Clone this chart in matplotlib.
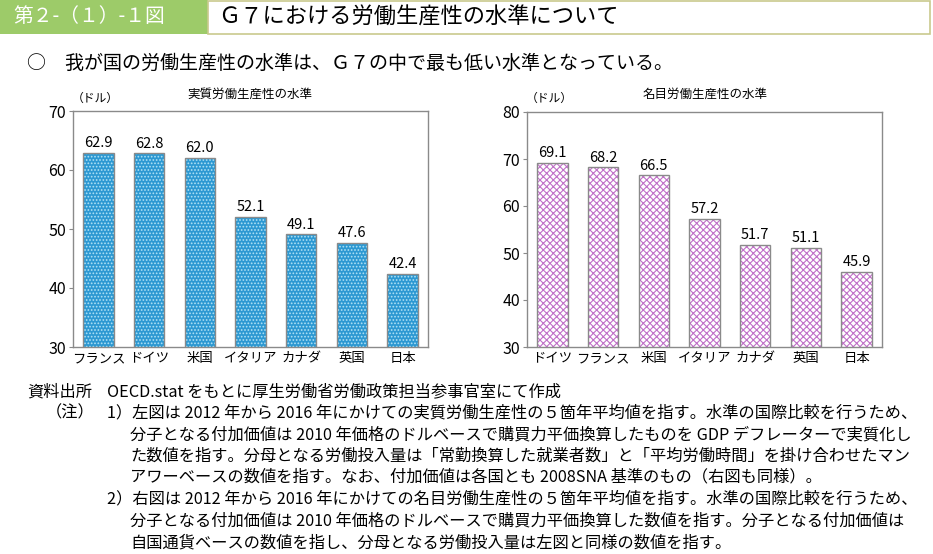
import matplotlib.pyplot as plt
from matplotlib.patches import Rectangle

plt.rcParams['font.family'] = ['Noto Sans CJK JP', 'DejaVu Sans']
plt.rcParams['hatch.linewidth'] = 0.8

# data
real_countries = ['フランス', 'ドイツ', '米国', 'イタリア', 'カナダ', '英国', '日本']
real_values = [62.9, 62.8, 62.0, 52.1, 49.1, 47.6, 42.4]
nominal_countries = ['ドイツ', 'フランス', '米国', 'イタリア', 'カナダ', '英国', '日本']
nominal_values = [69.1, 68.2, 66.5, 57.2, 51.7, 51.1, 45.9]

header_label = '第２-（１）-１図'
header_title = 'Ｇ７における労働生産性の水準について'
subtitle = '○　我が国の労働生産性の水準は、Ｇ７の中で最も低い水準となっている。'
notes = [
    '1）左図は 2012 年から 2016 年にかけての実質労働生産性の５箇年平均値を指す。水準の国際比較を行うため、',
    '分子となる付加価値は 2010 年価格のドルベースで購買力平価換算したものを GDP デフレーターで実質化し',
    'た数値を指す。分母となる労働投入量は「常勤換算した就業者数」と「平均労働時間」を掛け合わせたマン',
    'アワーベースの数値を指す。なお、付加価値は各国とも 2008SNA 基準のもの（右図も同様）。',
    '2）右図は 2012 年から 2016 年にかけての名目労働生産性の５箇年平均値を指す。水準の国際比較を行うため、',
    '分子となる付加価値は 2010 年価格のドルベースで購買力平価換算した数値を指す。分子となる付加価値は',
    '自国通貨ベースの数値を指し、分母となる労働投入量は左図と同様の数値を指す。',
]

W, H = 933, 554
fig = plt.figure(figsize=(W / 100, H / 100), dpi=100)


def fx(px):
    return px / W


def fy(py):
    return 1 - py / H


# header
fig.patches.append(Rectangle((0, fy(34)), fx(208), 34 / H, transform=fig.transFigure,
                             facecolor='#9dcb69', edgecolor='none'))
fig.patches.append(Rectangle((fx(208), fy(34)), fx(722), 33 / H, transform=fig.transFigure,
                             facecolor='white', edgecolor='#c9c98e', linewidth=1.2))
fig.text(fx(13), fy(17), header_label, color='white', fontsize=14.2, va='center', ha='left')
fig.text(fx(218), fy(17), header_title, color='black', fontsize=16, va='center', ha='left')
fig.text(fx(27), fy(63), subtitle, color='black', fontsize=13.7, va='center', ha='left')


def draw_chart(left_px, top_px, cats, vals, ymax, face, hatch_col, hatch, title, title_x):
    ax = fig.add_axes([fx(left_px), fy(347), fx(355), (347 - top_px) / H])
    x = range(len(cats))
    bars = ax.bar(x, vals, width=0.6, bottom=0, color=face, edgecolor=hatch_col,
                  hatch=hatch, linewidth=0)
    ax.bar(x, vals, width=0.6, fill=False, edgecolor='#8a8a8a', linewidth=1.0)
    ax.bar_label(bars, labels=[f'{v:.1f}' for v in vals], padding=2, fontsize=10.5)
    ax.set_xlim(-0.5, len(cats) - 0.5)
    ax.set_ylim(30, ymax)
    ax.set_yticks(range(30, ymax + 1, 10))
    ax.set_xticks(list(x))
    ax.set_xticklabels(cats, fontsize=9.6)
    ax.tick_params(axis='y', labelsize=11.5, length=3, color='#8a8a8a', pad=2)
    ax.tick_params(axis='x', length=0, pad=3)
    for s in ax.spines.values():
        s.set_color('#8a8a8a')
        s.set_linewidth(1.0)
    fig.text(fx(left_px - 1), fy(98), '（ドル）', fontsize=8.5, va='center', ha='left')
    fig.text(fx(title_x), fy(94), title, fontsize=9, va='center', ha='center')
    return ax


draw_chart(73, 111, real_countries, real_values, 70, '#2c98d2', '#b0e2f5', '.....',
           '実質労働生産性の水準', 250)
draw_chart(527, 112, nominal_countries, nominal_values, 80, 'white', '#c070c8', 'xxxxx',
           '名目労働生産性の水準', 705)

# footnotes
fs = 11.7
fig.text(fx(27), fy(392), '資料出所', fontsize=fs, va='center', ha='left')
fig.text(fx(107), fy(392), 'OECD.stat をもとに厚生労働省労働政策担当参事官室にて作成',
         fontsize=fs, va='center', ha='left')
fig.text(fx(46), fy(413), '（注）', fontsize=fs, va='center', ha='left')
line_y = [413, 435, 456, 477, 499, 521, 543]
for txt, yy in zip(notes, line_y):
    xx = 107 if txt[0].isdigit() else 130
    fig.text(fx(xx), fy(yy), txt, fontsize=fs, va='center', ha='left')

fig.savefig('out.png', dpi=100)
